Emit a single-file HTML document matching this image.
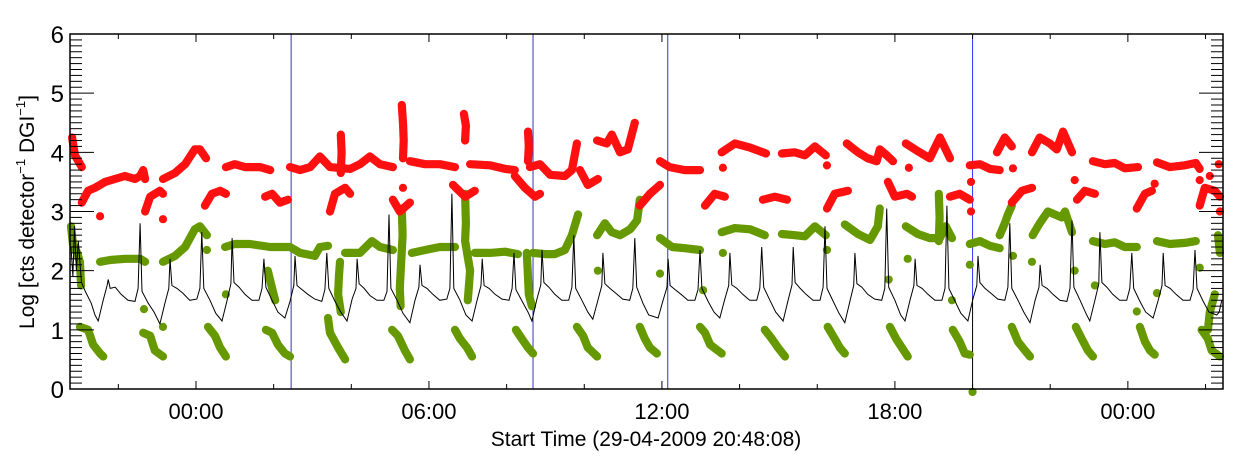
<!DOCTYPE html>
<html><head><meta charset="utf-8"><style>
html,body{margin:0;padding:0;background:#fff;}
svg{display:block;font-family:"Liberation Sans",sans-serif;}
</style></head><body>
<svg id="chart" width="1240" height="460" viewBox="0 0 1240 460">
<g id="marks"></g>
<g id="axes"></g>
<text x="646" y="446" font-size="21" text-anchor="middle">Start Time (29-04-2009 20:48:08)</text>
<text transform="translate(34,212) rotate(-90)" font-size="21" text-anchor="middle">Log [cts detector<tspan font-size="13" dy="-9">−1</tspan><tspan dy="9"> DGI</tspan><tspan font-size="13" dy="-9">−1</tspan><tspan dy="9">]</tspan></text>
</svg>
<script>
const xTickLabels = ["00:00","06:00","12:00","18:00","00:00"];
const xTickHours = [0,6,12,18,24];
const yTickLabels = ["0","1","2","3","4","5","6"];
const markerHours = [2.45, 8.68, 12.15];
const blueMarkerHour = [20.0];

const blackT = [-3.22,-3.17,-3.13,-3.08,-3.03,-2.95,-2.85,-2.7,-2.6,
-2.52,-2.39,-2.29,-2.26,-2.21,-2.08,-1.93,-1.75,-1.57,-1.49,-1.44,-1.39,-1.23,-1.08,
-0.93,-0.80,-0.70,-0.67,-0.62,-0.49,-0.34,-0.16,0.02,0.10,0.15,0.20,0.36,0.51,
0.67,0.80,0.90,0.93,0.98,1.11,1.26,1.44,1.62,1.70,1.75,1.80,1.96,2.11,
2.29,2.42,2.52,2.55,2.60,2.73,2.88,3.06,3.24,3.32,3.37,3.42,3.58,3.73,
3.89,4.02,4.12,4.15,4.20,4.33,4.48,4.66,4.84,4.92,4.97,5.02,5.18,5.33,
5.51,5.64,5.74,5.77,5.82,5.95,6.10,6.28,6.46,6.54,6.59,6.64,6.80,6.95,
7.11,7.24,7.34,7.37,7.42,7.55,7.70,7.88,8.06,8.14,8.19,8.24,8.40,8.55,
8.65,8.78,8.88,8.91,8.96,9.09,9.24,9.42,9.60,9.68,9.73,9.78,9.94,10.09,
10.22,10.35,10.45,10.48,10.53,10.66,10.81,10.99,11.17,11.25,11.30,11.35,11.51,11.66,
11.90,12.03,12.13,12.16,12.21,12.34,12.49,12.67,12.85,12.93,12.98,13.03,13.19,13.34,
13.49,13.62,13.72,13.75,13.80,13.93,14.08,14.26,14.44,14.52,14.57,14.62,14.78,14.93,
15.12,15.25,15.35,15.38,15.43,15.56,15.71,15.89,16.07,16.15,16.20,16.25,16.41,16.56,
16.71,16.84,16.94,16.97,17.02,17.15,17.30,17.48,17.66,17.74,17.79,17.84,18.00,18.15,
18.26,18.39,18.49,18.52,18.57,18.70,18.85,19.03,19.21,19.29,19.34,19.39,19.55,19.70,
19.88,20.01,20.11,20.14,20.19,20.32,20.47,20.65,20.83,20.91,20.96,21.01,21.17,21.32,
21.48,21.61,21.71,21.74,21.79,21.92,22.07,22.25,22.43,22.51,22.56,22.61,22.77,22.92,
23.02,23.15,23.25,23.28,23.33,23.46,23.61,23.79,23.97,24.05,24.10,24.15,24.31,24.46,
24.65,24.78,24.88,24.91,24.96,25.09,25.24,25.42,25.60,25.68,25.73,25.78,25.94,26.09,
26.29,26.35,26.42];
const blackV = [2.4,1.9,2.75,2.0,2.5,1.8,1.65,1.45,1.25,
1.15,1.5,1.75,1.85,1.7,1.72,1.6,1.5,1.48,1.7,2.8,1.65,1.45,1.3,
1.1,1.45,1.7,2.2,1.75,1.7,1.62,1.5,1.52,1.7,2.65,1.7,1.5,1.28,
1.15,1.5,1.78,2.55,1.8,1.72,1.6,1.5,1.5,1.7,2.2,1.72,1.5,1.3,
1.2,1.48,1.75,2.25,1.75,1.68,1.6,1.52,1.48,1.68,2.3,1.7,1.48,1.3,
1.15,1.52,1.7,2.2,1.78,1.7,1.58,1.5,1.5,1.65,2.95,1.7,1.5,1.28,
1.12,1.5,1.72,2.1,1.75,1.7,1.6,1.5,1.52,1.7,3.3,1.7,1.5,1.25,
1.15,1.5,1.75,2.2,1.75,1.7,1.6,1.52,1.5,1.7,2.3,1.68,1.48,1.3,
1.15,1.52,1.76,2.35,1.8,1.72,1.6,1.5,1.5,1.72,2.6,1.7,1.5,1.3,
1.18,1.5,1.75,2.3,1.78,1.7,1.62,1.52,1.5,1.7,2.55,1.72,1.45,1.25,
1.2,1.5,1.72,2.2,1.75,1.68,1.6,1.5,1.5,1.68,2.35,1.7,1.48,1.3,
1.2,1.52,1.75,2.3,1.76,1.7,1.6,1.5,1.5,1.7,2.4,1.72,1.5,1.3,
1.15,1.5,1.76,2.4,1.8,1.7,1.6,1.5,1.5,1.72,2.75,1.7,1.48,1.28,
1.12,1.48,1.75,2.3,1.78,1.72,1.6,1.52,1.5,1.7,3.05,1.72,1.5,1.25,
1.15,1.5,1.75,2.2,1.75,1.7,1.6,1.5,1.5,1.7,3.1,1.7,1.48,1.28,
1.15,1.52,1.75,2.25,1.8,1.7,1.62,1.52,1.5,1.72,2.8,1.7,1.5,1.3,
1.12,1.5,1.72,2.1,1.75,1.7,1.6,1.5,1.48,1.7,2.85,1.72,1.5,1.28,
1.15,1.5,1.78,2.65,1.8,1.72,1.6,1.5,1.5,1.7,2.3,1.7,1.48,1.3,
1.2,1.5,1.75,2.3,1.75,1.7,1.6,1.5,1.5,1.68,2.35,1.7,1.48,1.3,
1.25,1.3,1.5];

const redSegments = [
[[-3.19,4.25],[-3.12,3.95],[-2.94,3.75]],
[[-2.94,3.15],[-2.78,3.35],[-2.60,3.4],[-2.34,3.5],[-2.09,3.55]],
[[-2.09,3.55],[-1.83,3.6],[-1.57,3.55],[-1.44,3.6],[-1.36,3.7],[-1.31,3.55]],
[[-1.31,3.0],[-1.18,3.25],[-0.93,3.35],[-0.85,3.3]],
[[-0.85,3.55],[-0.54,3.65],[-0.28,3.8],[-0.03,4.05],[0.10,4.05],[0.26,3.9]],
[[0.23,3.1],[0.41,3.3],[0.62,3.35],[0.77,3.3]],
[[0.77,3.75],[1.0,3.8],[1.26,3.75],[1.65,3.75],[1.91,3.7]],
[[1.78,3.25],[1.96,3.3],[2.16,3.15],[2.37,3.2]],
[[-2.47,2.92]],[[-0.85,2.87]],
[[2.42,3.75],[2.68,3.7],[2.94,3.75],[3.19,3.93],[3.45,3.75],[3.97,3.72],[4.22,3.8],[4.48,3.93],[4.74,3.8],[5.07,3.75]],
[[3.45,3.0],[3.58,3.3],[3.84,3.4],[3.97,3.3]],
[[3.73,4.3],[3.75,4.0],[3.73,3.65]],
[[5.30,4.8],[5.33,4.5],[5.35,4.2],[5.33,3.9]],
[[5.07,3.2],[5.25,3.0],[5.51,3.15]],[[5.33,3.4]],
[[5.51,3.85],[5.90,3.8],[6.28,3.8],[6.67,3.75]],
[[6.90,4.65],[6.95,4.45],[6.93,4.2]],
[[6.62,3.45],[6.93,3.25],[7.18,3.35]],
[[7.06,3.8],[7.57,3.78],[7.96,3.72],[8.21,3.7]],
[[8.55,4.35],[8.57,4.1],[8.55,3.85]],
[[8.21,3.6],[8.47,3.4],[8.73,3.25],[8.86,3.3]],
[[8.60,3.75],[8.86,3.8],[9.12,3.62],[9.50,3.6],[9.68,3.7],[9.81,4.15]],
[[9.89,3.7],[10.09,3.45],[10.35,3.55]],
[[10.33,4.2],[10.58,4.15],[10.71,4.3],[10.92,4.0],[11.12,4.05],[11.30,4.5]],
[[11.43,3.1],[11.69,3.3],[11.95,3.45]],
[[11.95,3.85],[12.20,3.75],[12.59,3.7],[12.98,3.7]],
[[13.57,3.74]],
[[13.54,4.0],[13.88,4.15],[14.27,4.08],[14.68,3.98]],
[[13.11,3.1],[13.36,3.3],[13.62,3.25]],
[[15.09,3.98],[15.42,4.0],[15.68,3.95],[15.94,4.1],[16.22,3.95]],[[16.25,3.78]],
[[14.60,3.2],[14.91,3.25],[15.22,3.2]],
[[16.76,4.15],[17.05,4.0],[17.30,3.9],[17.53,3.85],[17.61,4.05],[17.79,3.95],[17.95,3.85]],
[[16.25,3.05],[16.45,3.3],[16.79,3.35]],
[[18.28,4.15],[18.59,4.02],[18.90,3.9],[19.16,4.25],[19.42,3.9]],[[18.36,3.74]],
[[17.82,3.5],[18.0,3.25],[18.31,3.3],[18.44,3.25]],
[[19.42,3.25],[19.67,3.3],[19.93,3.2]],[[19.96,3.0]],[[19.96,3.5]],
[[19.93,3.78],[20.19,3.8],[20.45,3.72],[20.70,3.7]],[[21.04,3.73]],
[[20.63,4.0],[20.83,4.25],[21.01,4.1]],
[[21.01,3.15],[21.27,3.35],[21.53,3.4]],
[[21.53,4.0],[21.73,4.25],[21.99,4.15],[22.17,4.05],[22.33,4.35],[22.56,4.0]],[[22.63,3.53]],
[[22.69,3.2],[22.89,3.35],[23.15,3.3]],
[[23.10,3.85],[23.41,3.8],[23.66,3.82],[23.92,3.73],[24.26,3.75]],
[[24.23,3.05],[24.44,3.3],[24.62,3.35]],[[24.69,3.47]],
[[24.75,3.83],[25.08,3.75],[25.47,3.78],[25.75,3.82],[25.85,3.72]],
[[25.85,3.1],[25.98,3.4],[26.24,3.35],[26.37,3.25]],
[[25.85,3.53]],[[26.11,3.6]],[[26.34,3.8]],[[26.37,3.0]]
];

const greenSegments = [
[[-3.22,2.75],[-3.17,2.45],[-3.06,2.3],[-2.99,2.15],[-2.96,1.75]],
[[-2.47,2.15],[-2.21,2.18],[-1.83,2.2],[-1.44,2.2],[-1.31,2.15]],[[-1.34,1.35]],
[[-0.85,2.15],[-0.54,2.25],[-0.28,2.4],[-0.03,2.7],[0.10,2.75],[0.28,2.6]],[[0.28,2.35]],[[-0.85,1.05]],
[[0.75,2.4],[1.0,2.45],[1.39,2.45],[1.91,2.4],[2.42,2.4],[2.68,2.3],[3.06,2.25],[3.19,2.4],[3.40,2.42]],[[0.77,1.6]],
[[3.84,2.3],[4.22,2.3],[4.53,2.5],[4.74,2.4],[5.07,2.35]],
[[5.56,2.3],[5.90,2.35],[6.28,2.4],[6.67,2.4]],
[[7.18,2.3],[7.57,2.3],[7.96,2.32],[8.29,2.28]],
[[8.68,2.3],[8.99,2.28],[9.24,2.28],[9.50,2.35],[9.68,2.6],[9.84,2.95]],
[[5.30,3.05],[5.32,2.6],[5.28,2.1],[5.25,1.7],[5.27,1.4]],
[[6.93,3.3],[6.95,2.8],[6.93,2.5],[7.06,2.0],[7.0,1.5]],
[[1.85,2.0],[1.96,1.7],[2.04,1.5]],
[[3.71,2.15],[3.68,1.9],[3.66,1.6],[3.73,1.3]],
[[8.52,2.3],[8.55,1.9],[8.57,1.6],[8.65,1.4]],
[[-2.99,1.05],[-2.78,1.0],[-2.65,0.75],[-2.47,0.6],[-2.39,0.55]],
[[-1.36,0.95],[-1.18,0.9],[-1.06,0.65],[-0.85,0.55]],
[[0.31,1.05],[0.49,0.9],[0.62,0.7],[0.77,0.55]],
[[1.80,1.0],[1.96,0.95],[2.11,0.75],[2.29,0.6],[2.42,0.55]],
[[3.40,1.2],[3.45,0.95],[3.66,0.7],[3.84,0.5]],
[[5.05,1.0],[5.20,0.9],[5.38,0.65],[5.51,0.5]],
[[6.67,1.0],[6.80,0.85],[6.98,0.7],[7.11,0.55]],
[[8.24,1.0],[8.39,0.85],[8.55,0.7],[8.68,0.6]],
[[9.81,1.05],[9.97,0.9],[10.09,0.7],[10.33,0.55]],
[[11.43,1.05],[11.56,0.85],[11.69,0.7],[11.87,0.6]],
[[12.98,1.05],[13.11,0.95],[13.24,0.75],[13.54,0.6]],
[[14.65,1.0],[14.83,0.85],[14.99,0.7],[15.17,0.55]],
[[16.27,1.05],[16.45,0.85],[16.58,0.7],[16.71,0.6]],
[[17.87,1.05],[18.03,0.85],[18.18,0.7],[18.33,0.55]],
[[19.49,1.0],[19.67,0.8],[19.80,0.6],[19.93,0.58]],
[[21.01,1.05],[21.17,0.8],[21.35,0.65],[21.48,0.55]],
[[22.66,1.05],[22.81,0.85],[22.97,0.65],[23.10,0.55]],
[[24.31,1.05],[24.44,0.8],[24.57,0.65],[24.69,0.58]],
[[25.90,1.0],[26.06,0.85],[26.16,0.65],[26.37,0.55]],
[[10.35,2.0]],
[[10.33,2.6],[10.53,2.8],[10.71,2.65],[10.92,2.6],[11.18,2.7],[11.36,2.85],[11.43,3.2]],
[[11.95,1.95]],
[[11.95,2.55],[12.26,2.4],[12.59,2.38],[12.98,2.35]],
[[13.57,2.3]],[[13.06,1.67]],
[[13.54,2.65],[13.88,2.72],[14.27,2.7],[14.65,2.6]],
[[15.09,2.62],[15.42,2.6],[15.68,2.58],[15.94,2.75],[16.22,2.6]],[[16.25,2.35]],
[[16.71,2.78],[17.05,2.62],[17.36,2.52],[17.56,2.75],[17.61,3.05]],
[[18.28,2.75],[18.59,2.62],[18.90,2.55],[19.16,2.55],[19.31,2.75],[19.47,2.55]],
[[19.13,3.3],[19.15,2.9],[19.13,2.5]],
[[18.33,2.2]],[[17.84,1.85]],[[19.47,1.5]],
[[19.93,2.45],[20.19,2.5],[20.45,2.42],[20.70,2.38]],
[[19.93,2.1]],[[21.04,2.25]],[[21.53,2.15]],[[22.63,2.0]],[[23.15,1.75]],[[24.75,1.62]],[[25.85,2.05]],[[24.23,1.31]],[[20.0,-0.05]],
[[20.70,2.6],[20.83,2.8],[20.91,2.95],[21.01,3.1]],
[[21.55,2.6],[21.73,2.8],[21.94,3.0],[22.12,2.95],[22.30,2.9],[22.38,3.0],[22.56,2.65]],
[[23.10,2.5],[23.41,2.45],[23.66,2.48],[23.92,2.4],[24.23,2.4]],
[[24.75,2.5],[25.08,2.45],[25.47,2.47],[25.75,2.5]],
[[26.32,2.6],[26.37,2.3]],
[[26.24,1.6],[26.11,1.3],[26.06,1.0]]
];

const NS="http://www.w3.org/2000/svg";
const L=70,R=1223,T=34,B=389;
const tMin=-3.245,tMax=26.45,vMin=0,vMax=6;
function xs(t){return L+(t-tMin)/(tMax-tMin)*(R-L);}
function ys(v){return B-(v-vMin)/(vMax-vMin)*(B-T);}
function mk(tag,attrs,parent){const e=document.createElementNS(NS,tag);for(const k in attrs)e.setAttribute(k,attrs[k]);parent.appendChild(e);return e;}
const marks=document.getElementById('marks');
const axes=document.getElementById('axes');

markerHours.forEach(h=>{
  const ln=mk('line',{x1:xs(h),x2:xs(h),y1:T,y2:B,stroke:'#3535b5','stroke-width':1},marks);
  
  
});
blueMarkerHour.forEach(h=>{
  const ln=mk('line',{x1:xs(h),x2:xs(h),y1:T,y2:ys(1.55),stroke:'#3333ff','stroke-width':1},marks);
  
  
  const ln2=mk('line',{x1:xs(h),x2:xs(h),y1:ys(1.55),y2:B,stroke:'#000','stroke-width':1},marks);
  
  
});

function drawSegs(segs,color,name){
  segs.forEach(s=>{
    let el;
    if(s.length===1){
      el=mk('circle',{cx:xs(s[0][0]),cy:ys(s[0][1]),r:4.1,fill:color},marks);
    }else{
      el=mk('polyline',{points:s.map(p=>xs(p[0]).toFixed(1)+','+ys(p[1]).toFixed(1)).join(' '),fill:'none',stroke:color,'stroke-width':8.2,'stroke-linecap':'round','stroke-linejoin':'round'},marks);
    }
    
    
  });
}
drawSegs(greenSegments,'#669900','green-series-points');
drawSegs(redSegments,'#ff1010','red-series-points');

const bl=mk('polyline',{points:blackT.map((t,i)=>xs(t).toFixed(1)+','+ys(blackV[i]).toFixed(1)).join(' '),fill:'none',stroke:'#000','stroke-width':1},marks);



const box=mk('rect',{x:L,y:T,width:R-L,height:B-T,fill:'none',stroke:'#000','stroke-width':1.5},axes);


for(let i=0;i<=60;i++){
  const v=i/10, y=ys(v), len=(i%10===0)?24:12;
  const t1=mk('line',{x1:L,x2:L+len,y1:y,y2:y,stroke:'#000','stroke-width':1},axes);
  
  
  const t2=mk('line',{x1:R,x2:R-len,y1:y,y2:y,stroke:'#000','stroke-width':1},axes);
  
  
}
yTickLabels.forEach((lab,i)=>{
  const tx=mk('text',{x:L-6,y:ys(i)+9,'font-size':24,'text-anchor':'end'},axes);
  tx.textContent=lab;
  
  
});
for(let h=-2;h<=26;h+=2){
  const x=xs(h), len=(h%6===0)?8:5;
  const a=mk('line',{x1:x,x2:x,y1:B,y2:B-len,stroke:'#000','stroke-width':1},axes);
  
  
  const b=mk('line',{x1:x,x2:x,y1:T,y2:T+len,stroke:'#000','stroke-width':1},axes);
  
  
}
xTickLabels.forEach((lab,i)=>{
  const tx=mk('text',{x:xs(xTickHours[i]),y:419,'font-size':22,'text-anchor':'middle'},axes);
  tx.textContent=lab;
  
  
});
</script>
</body></html>
